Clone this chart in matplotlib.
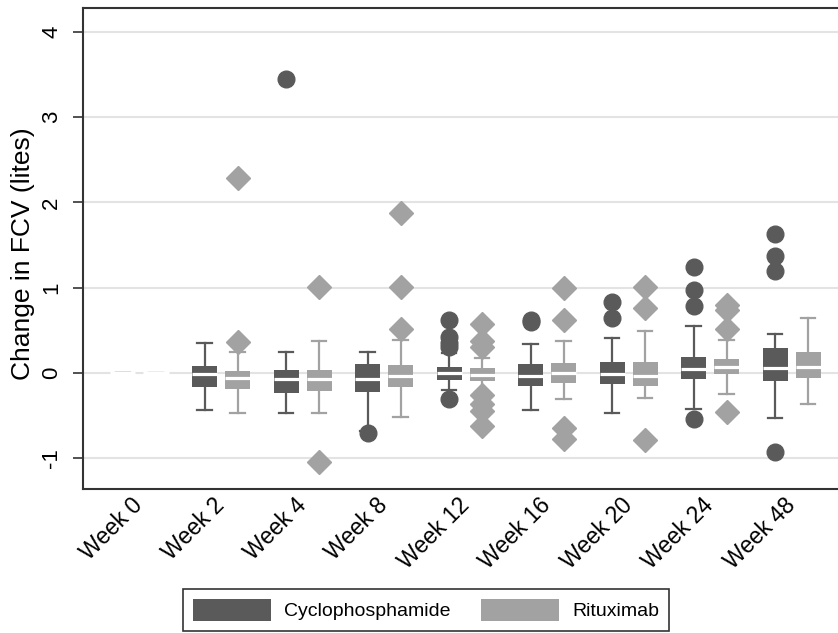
import matplotlib
matplotlib.use("Agg")
import matplotlib.pyplot as plt
from matplotlib.patches import Patch

plt.rcParams['font.family'] = ['Liberation Sans', 'DejaVu Sans']
plt.rcParams['axes.unicode_minus'] = False

weeks = ["Week 0", "Week 2", "Week 4", "Week 8", "Week 12",
         "Week 16", "Week 20", "Week 24", "Week 48"]

# Cyclophosphamide box stats
cyc_q1 = [0, -0.16, -0.23, -0.22, -0.08, -0.15, -0.13, -0.074, -0.094]
cyc_med = [0, -0.015, -0.07, -0.067, 0.0, -0.035, -0.01, 0.043, 0.063]
cyc_q3 = [0, 0.08, 0.04, 0.10, 0.074, 0.10, 0.13, 0.19, 0.29]
cyc_lo = [0, -0.44, -0.465, -0.68, -0.20, -0.43, -0.47, -0.42, -0.53]
cyc_hi = [0, 0.35, 0.25, 0.24, 0.23, 0.34, 0.41, 0.55, 0.46]
cyc_out = [[], [], [3.45], [-0.71], [0.62, 0.42, 0.35, 0.30, -0.30],
           [0.62, 0.60], [0.83, 0.65], [1.24, 0.97, 0.78, -0.54],
           [1.63, 1.37, 1.19, -0.93]]

# Rituximab box stats
rtx_q1 = [0, -0.19, -0.21, -0.16, -0.10, -0.12, -0.15, -0.016, -0.06]
rtx_med = [0, -0.06, -0.07, -0.04, -0.02, 0.0, -0.035, 0.074, 0.074]
rtx_q3 = [0, 0.02, 0.04, 0.094, 0.055, 0.12, 0.13, 0.16, 0.25]
rtx_lo = [0, -0.47, -0.465, -0.52, -0.22, -0.31, -0.29, -0.25, -0.36]
rtx_hi = [0, 0.25, 0.37, 0.39, 0.17, 0.37, 0.49, 0.39, 0.65]
rtx_out = [[], [2.29, 0.36], [1.01, -1.05], [1.88, 1.01, 0.52],
           [0.57, 0.38, 0.31, -0.26, -0.36, -0.45, -0.62],
           [1.00, 0.62, -0.65, -0.78], [1.01, 0.76, -0.79],
           [0.80, 0.74, 0.52, -0.46], []]

dark = '#5a5a5a'
light = '#a2a2a2'


def make_stats(q1, med, q3, lo, hi, out):
    return [dict(q1=a, med=b, q3=c, whislo=d, whishi=e, fliers=f)
            for a, b, c, d, e, f in zip(q1, med, q3, lo, hi, out)]


fig = plt.figure(figsize=(8.38, 6.33), dpi=100)
ax = fig.add_axes([83 / 838, 1 - 489 / 633, 1.005 - 83 / 838, (489 - 8) / 633])

ax.set_yticks([-1, 0, 1, 2, 3, 4])
ax.yaxis.grid(True, color='#e3e3e3', linewidth=1.5, zorder=0)
ax.set_axisbelow(True)

off = 0.2025
pos = list(range(len(weeks)))

for stats, shift, col, mk in [
        (make_stats(cyc_q1, cyc_med, cyc_q3, cyc_lo, cyc_hi, cyc_out), -off, dark, 'o'),
        (make_stats(rtx_q1, rtx_med, rtx_q3, rtx_lo, rtx_hi, rtx_out), off, light, 'D')]:
    ax.bxp(stats, positions=[p + shift for p in pos], widths=0.307,
           patch_artist=True, showfliers=True, manage_ticks=False,
           boxprops=dict(facecolor=col, linewidth=0),
           medianprops=dict(color='white', linewidth=2.3, solid_capstyle='butt'),
           whiskerprops=dict(color=col, linewidth=1.6),
           capprops=dict(color=col, linewidth=1.6),
           capwidths=0.18,
           flierprops=dict(marker=mk, markerfacecolor=col, markeredgecolor=col,
                           markersize=12 if mk == 'o' else 12.5, linestyle='none'),
           zorder=3)

ax.set_xlim(-0.693, 8.62)
ax.set_ylim(-1.361, 4.28)
ax.set_xticks(pos)
ax.set_xticklabels(weeks, rotation=45, ha='right', va='center',
                   rotation_mode='anchor', fontsize=16.5)
ax.tick_params(axis='x', length=0, pad=9)
ax.tick_params(axis='y', length=7, width=1.2, color='#333333', pad=8,
               labelsize=16)
for lbl in ax.get_yticklabels():
    lbl.set_rotation(90)
    lbl.set_va('center')

ax.set_ylabel('Change in FCV (lites)', fontsize=19)
ax.yaxis.set_label_coords(-0.063, 0.49)

for side in ['left', 'top', 'bottom']:
    ax.spines[side].set_color('#333333')
    ax.spines[side].set_linewidth(1.5)
ax.spines['right'].set_visible(False)

handles = [Patch(facecolor=dark, edgecolor='none', label='Cyclophosphamide'),
           Patch(facecolor=light, edgecolor='none', label='Rituximab')]
leg = fig.legend(handles=handles, loc='upper left',
                 bbox_to_anchor=(183 / 838, 1 - 589 / 633), ncol=2,
                 fontsize=14, handlelength=4.0, handleheight=1.4,
                 handletextpad=0.67, columnspacing=1.6, borderpad=0.5,
                 borderaxespad=0, fancybox=False, framealpha=1)
leg.get_frame().set_edgecolor('#333333')
leg.get_frame().set_linewidth(1.2)

fig.savefig('out.png', dpi=100)
